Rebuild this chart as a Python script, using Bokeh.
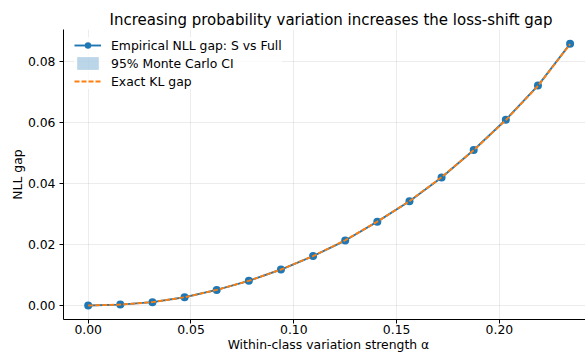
from bokeh.plotting import figure
from bokeh.models import (Range1d, FixedTicker, NumeralTickFormatter, Legend,
                          LegendItem)
from bokeh.embed import file_html
from bokeh.resources import INLINE

# ---- data -------------------------------------------------------------
alpha_strength = [0.0, 0.015625, 0.03125, 0.046875, 0.0625, 0.078125, 0.09375,
                  0.109375, 0.125, 0.140625, 0.15625, 0.171875, 0.1875,
                  0.203125, 0.21875, 0.234375]
nll_gap = [0.0000, 0.0003, 0.0011, 0.0027, 0.0051, 0.0081, 0.0118, 0.0162,
           0.0213, 0.0275, 0.0342, 0.0420, 0.0510, 0.0609, 0.0721, 0.0858]
ci_lower = [-0.0001, 0.0002, 0.0010, 0.0026, 0.0049, 0.0079, 0.0116, 0.0160,
            0.0211, 0.0272, 0.0339, 0.0417, 0.0507, 0.0606, 0.0718, 0.0855]
ci_upper = [0.0001, 0.0004, 0.0012, 0.0028, 0.0053, 0.0083, 0.0120, 0.0164,
            0.0215, 0.0278, 0.0345, 0.0423, 0.0513, 0.0612, 0.0724, 0.0861]
kl_gap = [0.0000, 0.0003, 0.0011, 0.0027, 0.0051, 0.0081, 0.0118, 0.0162,
          0.0214, 0.0275, 0.0342, 0.0421, 0.0509, 0.0608, 0.0720, 0.0857]
x_ticks = [0.0, 0.05, 0.10, 0.15, 0.20]
y_ticks = [0.0, 0.02, 0.04, 0.06, 0.08]

title_text = "Increasing probability variation increases the loss-shift gap"
x_label = "\u00a0\u00a0Within-class variation strength \u03b1"
y_label = "NLL gap"

FONT = "DejaVu Sans"
BLUE = "#1f77b4"
ORANGE = "#ff7f0e"

p = figure(width=585, height=354, output_backend="svg", toolbar_location=None,
           x_range=Range1d(-0.01201, 0.24187), y_range=Range1d(-0.00459, 0.0905),
           min_border_left=63, min_border_right=0, min_border_top=29,
           min_border_bottom=35)
p.outline_line_color = None
p.background_fill_color = "white"
p.border_fill_color = "white"

p.title.text = title_text
p.title.align = "left"
p.title.offset = 46
p.title.standoff = 2
p.title.text_font = FONT
p.title.text_font_size = "15px"
p.title.text_font_style = "normal"
p.title.text_color = "black"

for ax in (p.xaxis, p.yaxis):
    ax.major_label_text_font = FONT
    ax.major_label_text_font_size = "12.4px"
    ax.major_label_text_color = "black"
    ax.axis_line_color = "black"
    ax.axis_line_width = 1
    ax.major_tick_line_color = "black"
    ax.major_tick_line_width = 1
    ax.major_tick_out = 4
    ax.major_tick_in = 0
    ax.minor_tick_line_color = None
    ax.formatter = NumeralTickFormatter(format="0.00")
    ax.axis_label_text_font = FONT
    ax.axis_label_text_font_size = "12.4px"
    ax.axis_label_text_font_style = "normal"
    ax.axis_label_text_color = "black"

p.xaxis.ticker = FixedTicker(ticks=x_ticks)
p.yaxis.ticker = FixedTicker(ticks=y_ticks)
p.xaxis.major_label_standoff = 1
p.yaxis.major_label_standoff = 4

p.xaxis.axis_label = x_label
p.xaxis.axis_label_standoff = 0
p.yaxis.axis_label = y_label
p.yaxis.axis_label_standoff = 0

p.xgrid.ticker = FixedTicker(ticks=x_ticks)
p.ygrid.ticker = FixedTicker(ticks=y_ticks)
p.grid.grid_line_color = "#b0b0b0"
p.grid.grid_line_alpha = 0.3
p.grid.grid_line_width = 0.8

band = p.varea(x=alpha_strength, y1=ci_lower, y2=ci_upper,
               fill_color=BLUE, fill_alpha=0.3)
nll_line = p.line(alpha_strength, nll_gap, line_color=BLUE, line_width=1.9)
nll_pts = p.scatter(alpha_strength, nll_gap, size=8, fill_color=BLUE,
                    line_color=BLUE, line_width=0)
kl_line = p.line(alpha_strength, kl_gap, line_color=ORANGE, line_width=1.9,
                 line_dash="5 2")

legend = Legend(items=[
    LegendItem(label="Empirical NLL gap: S vs Full", renderers=[nll_line, nll_pts]),
    LegendItem(label="95% Monte Carlo CI", renderers=[band]),
    LegendItem(label="Exact KL gap", renderers=[kl_line]),
], location=(11, 230))
legend.label_text_font = FONT
legend.label_text_font_size = "12.4px"
legend.label_text_color = "black"
legend.glyph_width = 27
legend.glyph_height = 16
legend.label_height = 14
legend.label_standoff = 10
legend.spacing = 2
legend.padding = 5
legend.margin = 0
legend.border_line_color = None
legend.background_fill_color = "white"
legend.background_fill_alpha = 0.8
p.add_layout(legend)

open("out.html", "w").write(file_html(p, INLINE))
